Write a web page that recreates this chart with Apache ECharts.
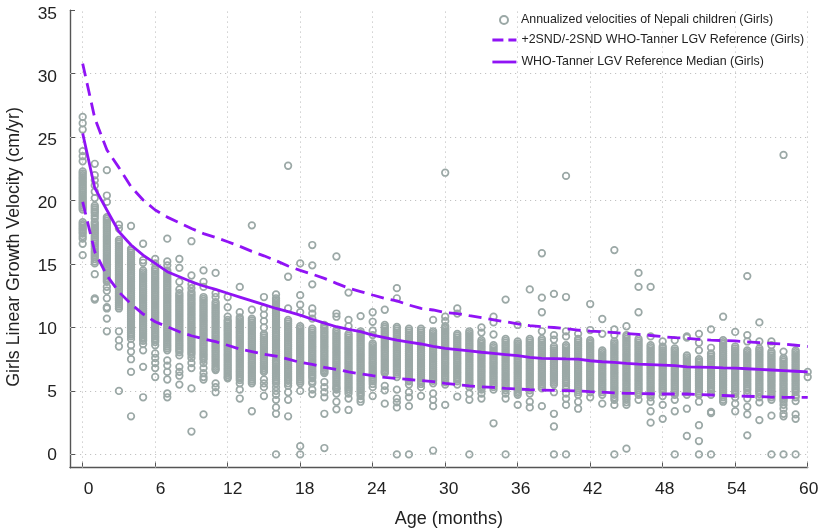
<!DOCTYPE html>
<html><head><meta charset="utf-8">
<style>html,body{margin:0;padding:0;background:#fff}#c{width:819px;height:530px}</style>
<script src="https://cdn.jsdelivr.net/npm/echarts@6/dist/echarts.min.js"></script>
</head><body><div id="c"></div>
<script>
const xTicks=[0,6,12,18,24,30,36,42,48,54,60];
const yTicks=[0,5,10,15,20,25,30,35];
const months=[0,1,2,3,4,5,6,7,8,9,10,11,12,13,14,15,16,17,18,19,20,21,22,23,24,25,26,27,28,29,30,31,32,33,34,35,36,37,38,39,40,41,42,43,44,45,46,47,48,49,50,51,52,53,54,55,56,57,58,59,60];
const upperRef=[30.8,26.5,24,22.6,21.1,20.05,19.26,18.7,18.26,17.8,17.4,17.1,16.76,16.4,16,15.65,15.27,14.85,14.5,14.2,13.87,13.48,13.1,12.83,12.56,12.3,12.1,11.77,11.5,11.38,11.17,11.1,10.93,10.77,10.6,10.46,10.28,10.14,10.07,10,9.9,9.8,9.72,9.66,9.6,9.53,9.46,9.37,9.28,9.2,9.15,9.07,9,8.97,8.94,8.87,8.8,8.75,8.7,8.6,8.5];
const medianRef=[25.3,21,19.26,17.55,16.5,15.7,15.05,14.4,14,13.6,13.27,13,12.7,12.4,12.1,11.8,11.5,11.25,10.98,10.65,10.35,10.06,9.85,9.67,9.4,9.2,9,8.85,8.7,8.52,8.35,8.25,8.15,8.05,7.96,7.87,7.78,7.65,7.57,7.55,7.52,7.5,7.38,7.3,7.25,7.18,7.12,7.08,7.04,7,6.9,6.88,6.85,6.82,6.8,6.75,6.7,6.65,6.6,6.55,6.5];
const lowerRef=[19.9,15.97,14.1,12.8,11.85,11.06,10.45,10.06,9.66,9.35,9.1,8.88,8.6,8.3,8.1,7.9,7.75,7.5,7.25,7.1,6.85,6.7,6.5,6.35,6.2,6.07,5.98,5.9,5.82,5.73,5.6,5.5,5.4,5.33,5.28,5.2,5.15,5.1,5.07,5.04,5.02,5,4.94,4.9,4.85,4.81,4.8,4.78,4.76,4.76,4.76,4.72,4.68,4.64,4.6,4.58,4.55,4.52,4.5,4.5,4.5];
const velocitiesByMonth=[
[26.6,26.1,25.6,23.9,23.5,23.1,22.3,22,21.7,21.4,21.1,20.8,20.5,20.2,19.9,19.6,19.3,18.3,18,17.7,17.4,17,16.6,15.7],
[22.9,22,21.6,21.2,20.7,20.2,19.6,19.3,19,18.6,18.3,18,17.7,17.4,17.1,16.8,16.4,16,15.7,15.4,15.05,14.2,12.3,12.2],
[22.4,20.4,19.9,18.7,18.4,18.1,17.8,17.5,17.2,16.9,16.6,16.3,16,15.7,15.4,15.1,14.8,14.5,14.2,13.9,13.6,13.2,12.9,12.3,11.6,11.5,10.7,9.7],
[18.1,17.8,16.9,16.6,16.3,16,15.7,15.4,15.1,14.8,14.5,14.2,13.9,13.6,13.3,13,12.7,12.4,12.1,11.8,11.5,9.7,9,8.5,5],
[18,16.2,15.9,15.6,15.3,15,14.7,14.4,14.1,13.8,13.5,13.2,12.9,12.6,12.3,12,11.7,11.4,11.1,10.8,10.5,10.2,9.9,9.6,9.3,9.1,8.6,8.1,7.5,6.5,3],
[16.6,15.3,15.1,14.5,14.2,13.9,13.6,13.3,13,12.7,12.4,12.1,11.8,11.5,11.2,10.9,10.6,10.3,10,9.7,9.4,9.1,8.7,8.2,6.9,4.5],
[15.4,15.05,14.7,14.4,14.1,13.8,13.5,13.2,12.9,12.6,12.3,12,11.7,11.4,11.1,10.8,10.5,10.2,9.9,9.6,9.3,9,8.6,7.95,7.6,7.2,6.8,6.1],
[17,15.2,14.9,14.5,14.2,13.9,13.6,13.3,13,12.7,12.4,12.1,11.8,11.5,11.2,10.9,10.6,10.3,10,9.7,9.4,9.1,8.8,8.5,8.2,7.4,7,6.5,5.9,4.8,4.5],
[15.4,14.7,13.6,13,12.7,12.4,12.1,11.8,11.5,11.2,10.9,10.6,10.3,10,9.7,9.4,9.1,8.8,8.5,8.2,7.8,6.9,6.5,6.2,5.5],
[16.8,14.1,13.4,13.1,12.8,12.5,12.2,11.9,11.6,11.3,11,10.7,10.4,10.1,9.8,9.5,9.2,8.9,8.6,8.3,8,7.6,7.2,6.8,5.2,1.8],
[14.5,13.6,13.2,12.4,12.1,11.8,11.5,11.2,10.9,10.6,10.3,10,9.7,9.4,9.1,8.8,8.5,8.2,7.9,7.6,7.2,6.8,6.4,6.1,5.9,3.15],
[14.3,12.7,12.4,12,11.7,11.4,11.1,10.8,10.5,10.2,9.9,9.6,9.3,9,8.7,8.4,8.1,7.8,7.5,7.2,6.9,6.65,5.6,5.3,4.9],
[12.4,11.6,10.85,10.6,10.3,10,9.7,9.4,9.1,8.8,8.5,8.2,7.9,7.6,7.3,7,6.7,6.4,6.1,6],
[13.2,11.2,10.8,10.5,10.2,9.9,9.6,9.3,9,8.7,8.4,8.1,7.8,7.5,7.2,6.9,6.6,6.3,6,5.6,5.1,4.4],
[18.05,11.4,10.7,10.4,10.1,9.8,9.5,9.2,8.9,8.6,8.3,8,7.7,7.4,7.1,6.8,6.5,6.2,5.9,5.6,3.4],
[12.4,11.5,11,10.5,10,9.5,9.2,8.9,8.6,8.3,8,7.7,7.4,7.1,6.8,6.5,5.9,5.6,5.3,4.6],
[12.6,12.3,12,11.7,11.4,11.1,10.8,10.5,10.2,9.9,9.6,9.3,9,8.7,8.4,8.1,7.8,7.4,7.1,6.8,6.5,6.2,5.9,5.6,5.3,5,4.7,4.3,3.7,3.2,0],
[22.75,14,11.5,10.6,10.3,10,9.7,9.4,9.1,8.8,8.5,8.2,7.9,7.6,7.3,7,6.7,6.4,6.1,5.8,5.6,5.4,4.9,4.3,3],
[15.05,12.55,11.8,11.2,10.1,9.8,9.5,9.2,8.9,8.6,8.3,8,7.7,7.4,7.1,6.8,6.5,6.2,5.9,5.6,5,0.65,0],
[16.5,14.9,13.4,11.5,11.1,10.7,9.9,9.6,9.3,9,8.7,8.4,8.1,7.8,7.5,7.2,6.9,6.6,6.3,6,5.6,5.1,4.75],
[10.2,9.9,9.6,9.3,9,8.7,8.4,8.1,7.8,7.5,7.2,6.9,6.6,6.4,5.7,5.3,4.9,4.5,3.2,0.5],
[15.6,11.1,10.85,9.8,9.5,9.2,8.9,8.6,8.3,8,7.7,7.4,7.1,6.8,6.5,6.2,5.9,5.6,5.3,5.1,4.8,4.15,3.55],
[12.75,10.6,10.1,9.5,9.2,8.9,8.6,8.3,8,7.7,7.4,7.1,6.8,6.5,6.2,5.9,5.6,5.3,5,4.8,4.4,3.5],
[10.9,9.7,9.4,9.1,8.8,8.5,8.2,7.9,7.6,7.3,7,6.7,6.4,6.1,5.8,5.5,5.2,4.9,4.6,4.35,4.15],
[11.2,10.45,9.75,9.4,8.75,8.45,8.15,7.85,7.55,7.25,6.95,6.65,6.35,6.05,5.75,5.3,4.6],
[11.4,10.2,9.9,9.6,9.3,9,8.7,8.4,8.1,7.8,7.5,7.2,6.9,6.6,6.4,5.4,5.05,4],
[13.1,12.3,10.05,9.75,9.45,9.15,8.85,8.55,8.25,7.95,7.65,7.35,7.05,6.75,6.45,6.1,5.1,4.4,4.1,3.7,0],
[9.9,9.6,9.3,9,8.7,8.4,8.1,7.8,7.5,7.2,6.9,6.6,6.3,6,5.75,5.5,4.9,4.5,3.8,0],
[9.9,9.6,9.3,9,8.7,8.4,8.1,7.8,7.5,7.2,6.9,6.6,6.3,6,5.7,5.3,4.6],
[10.6,9.7,9.4,9.1,8.8,8.5,8.2,7.9,7.6,7.3,7,6.7,6.4,6.1,5.8,5.6,4.8,4.3,3.8,0.3],
[22.2,10.85,10.5,10.1,9.8,9.5,9.2,8.9,8.6,8.3,8,7.7,7.4,7.1,6.8,6.5,6.2,5.9,5.5,3.9],
[11.5,11.1,9.5,9.2,8.9,8.6,8.3,8,7.7,7.4,7.1,6.8,6.5,6.2,5.9,5.5,4.55],
[9.7,9.4,9.1,8.8,8.5,8.2,7.9,7.6,7.3,7,6.7,6.4,6.1,5.8,5.5,5.3,4.8,4.3,0],
[10,9.6,9,8.7,8.4,8.1,7.8,7.5,7.2,6.9,6.6,6.3,6,5.7,5.4,5.1,4.8,4.4],
[10.85,10.4,9.45,8.6,8.3,8,7.7,7.4,7.1,6.8,6.5,6.2,5.9,5.6,5.3,5.1,2.45],
[12.2,9.1,8.8,8.5,8.2,7.9,7.6,7.3,7,6.7,6.4,6.1,5.8,5.5,5.2,4.8,4.4,0],
[10.2,8.9,8.6,8.3,8,7.7,7.4,7.1,6.8,6.5,6.2,5.9,5.6,5.3,5,4.7,3.9],
[13,9.1,8.8,8.5,8.2,7.9,7.6,7.3,7,6.7,6.4,6.1,5.8,5.5,5.2,4.8,4.15,3.7],
[15.85,12.35,11.2,9.7,9.1,8.8,8.5,8.2,7.9,7.6,7.3,7,6.7,6.4,6.1,5.8,5.5,5.2,3.8],
[12.65,9.4,9.05,8.5,8.2,7.9,7.6,7.3,7,6.7,6.4,6.1,5.8,5.5,4.9,3.2,2.2,0],
[21.95,12.4,9.7,9.3,8.6,8.3,8,7.7,7.4,7.1,6.8,6.5,6.2,5.9,5.6,5.2,4.8,4.4,3.9,0],
[9.5,9.1,8.8,8.5,8.2,7.9,7.6,7.3,7,6.7,6.4,6.1,5.8,5.5,5.2,4.9,4.7,4.15,3.6],
[11.85,9.8,9,8.7,8.4,8.1,7.8,7.5,7.2,6.9,6.6,6.3,6,5.7,5.4,5.1,4.9,4.5],
[10.67,9.5,8.2,7.9,7.6,7.3,7,6.7,6.4,6.1,5.8,5.5,5.2,4.9,4.7,4],
[16.1,9.85,9.4,8.9,8.6,8.3,8,7.7,7.4,7.1,6.8,6.5,6.2,5.9,5.6,5.3,5,4.7,4.5,4.3,3.9,0],
[10.1,9.4,9.1,8.8,8.5,8.2,7.9,7.6,7.3,7,6.7,6.4,6.1,5.8,5.5,5.2,4.9,4.6,4.3,4.1,3.9,0.45],
[14.3,13.2,11.2,9.1,8.8,8.5,8.2,7.9,7.6,7.3,7,6.7,6.4,6.1,5.8,5.5,5.2,4.9,4.7,4.3],
[13.2,9.3,8.6,8.3,8,7.7,7.4,7.1,6.8,6.5,6.2,5.9,5.6,5.3,5,4.7,4.5,4.15,3.4,2.5],
[8.9,8.5,8.2,7.9,7.6,7.3,7,6.7,6.4,6.1,5.8,5.5,5.2,4.9,4.6,3.9,2.8],
[9,8.35,8.05,7.75,7.45,7.15,6.85,6.55,6.25,5.95,5.65,5.35,5.05,4.7,4.3,3.4,0],
[9.3,9.2,7.8,7.5,7.2,6.9,6.6,6.3,6,5.7,5.4,5.1,4.9,4.7,3.6,1.45],
[9.5,8.8,8.2,7.5,7.2,6.9,6.6,6.3,6,5.7,5.4,5.1,4.8,4.7,4.15,2.3,1.05,0],
[9.85,8.4,7.96,7.7,7.4,7.1,6.8,6.5,6.2,5.9,5.6,5.3,5,4.7,3.35,3.25,0],
[10.85,9,8.7,8.4,8.1,7.8,7.5,7.2,6.9,6.6,6.3,6,5.7,5.4,5.1,4.8,4.5,4.3,4.15],
[9.65,8.5,8.2,7.9,7.6,7.3,7,6.7,6.4,6.1,5.8,5.5,5.2,4.9,4.5,4,3.4],
[14.05,9.4,8.9,8.2,7.9,7.6,7.3,7,6.7,6.4,6.1,5.8,5.5,5.2,4.8,4.4,3.75,3.15,1.5],
[10.4,8.9,8.35,8.05,7.75,7.45,7.15,6.85,6.55,6.25,5.95,5.65,5.35,5.05,4.75,4.5,4.1,2.7],
[8.9,8.6,8.1,7.8,7.5,7.2,6.9,6.6,6.3,6,5.7,5.4,5.1,4.8,4.5,4.3,3.05,0],
[23.6,8.1,7.6,7.3,7,6.7,6.4,6.1,5.8,5.5,5.2,4.9,4.6,4.3,3.9,3.6,3.2,3,0],
[8.2,7.9,7.6,7.3,7,6.7,6.4,6.1,5.8,5.5,5.2,4.9,4.5,4.2,3.15,2.8,0],
[6.5,6.1]
];
const denseBandByMonth=[
[22.15,21.85,21.55,21.25,20.95,20.65,20.35,20.05,19.75,19.45,18.15,17.85,17.55,17.2],
[19.45,19.15,18.8,18.15,17.85,17.55,17.25,16.95,16.6,16.2,15.85,15.55,15.2],
[18.55,18.25,17.95,17.65,17.35,17.05,16.75,16.45,16.15,15.85,15.55,15.25,14.95,14.65,14.35,14.05,13.75],
[16.75,16.45,16.15,15.85,15.55,15.25,14.95,14.65,14.35,14.05,13.75,13.45,13.15,12.85,12.55,12.25,11.95,11.65],
[16.05,15.75,15.45,15.15,14.85,14.55,14.25,13.95,13.65,13.35,13.05,12.75,12.45,12.15,11.85,11.55,11.25,10.95,10.65,10.35,10.05,9.75,9.45],
[14.35,14.05,13.75,13.45,13.15,12.85,12.55,12.25,11.95,11.65,11.35,11.05,10.75,10.45,10.15,9.85,9.55,9.25,8.95],
[14.55,14.25,13.95,13.65,13.35,13.05,12.75,12.45,12.15,11.85,11.55,11.25,10.95,10.65,10.35,10.05,9.75,9.45,9.15,8.85],
[14.35,14.05,13.75,13.45,13.15,12.85,12.55,12.25,11.95,11.65,11.35,11.05,10.75,10.45,10.15,9.85,9.55,9.25,8.95,8.65,8.35],
[12.55,12.25,11.95,11.65,11.35,11.05,10.75,10.45,10.15,9.85,9.55,9.25,8.95,8.65,8.35,8.05],
[12.65,12.35,12.05,11.75,11.45,11.15,10.85,10.55,10.25,9.95,9.65,9.35,9.05,8.75,8.45,8.15,7.85],
[12.25,11.95,11.65,11.35,11.05,10.75,10.45,10.15,9.85,9.55,9.25,8.95,8.65,8.35,8.05,7.75,7.45],
[11.85,11.55,11.25,10.95,10.65,10.35,10.05,9.75,9.45,9.15,8.85,8.55,8.25,7.95,7.65,7.35,7.05,6.75],
[10.45,10.15,9.85,9.55,9.25,8.95,8.65,8.35,8.05,7.75,7.45,7.15,6.85,6.55,6.25],
[10.65,10.35,10.05,9.75,9.45,9.15,8.85,8.55,8.25,7.95,7.65,7.35,7.05,6.75,6.45,6.15,5.85],
[10.55,10.25,9.95,9.65,9.35,9.05,8.75,8.45,8.15,7.85,7.55,7.25,6.95,6.65,6.35,6.05,5.75],
[9.35,9.05,8.75,8.45,8.15,7.85,7.55,7.25,6.95,6.65],
[12.15,11.85,11.55,11.25,10.95,10.65,10.35,10.05,9.75,9.45,9.15,8.85,8.55,8.25,7.95,7.65,7.25,6.95,6.65,6.35,6.05,5.75],
[10.45,10.15,9.85,9.55,9.25,8.95,8.65,8.35,8.05,7.75,7.45,7.15,6.85,6.55,6.25,5.95],
[9.95,9.65,9.35,9.05,8.75,8.45,8.15,7.85,7.55,7.25,6.95,6.65,6.35,6.05,5.75],
[9.75,9.45,9.15,8.85,8.55,8.25,7.95,7.65,7.35,7.05,6.75,6.45,6.15,5.75],
[10.05,9.75,9.45,9.15,8.85,8.55,8.25,7.95,7.65,7.35,7.05,6.75,6.5],
[9.65,9.35,9.05,8.75,8.45,8.15,7.85,7.55,7.25,6.95,6.65,6.35,6.05,5.75,5.45,5.2],
[9.35,9.05,8.75,8.45,8.15,7.85,7.55,7.25,6.95,6.65,6.35,6.05,5.75,5.45,5.15],
[9.55,9.25,8.95,8.65,8.35,8.05,7.75,7.45,7.15,6.85,6.55,6.25,5.95,5.65,5.35,5.05,4.75],
[8.6,8.3,8,7.7,7.4,7.1,6.8,6.5,6.2,5.9,5.55],
[10.05,9.75,9.45,9.15,8.85,8.55,8.25,7.95,7.65,7.35,7.05,6.75,6.5],
[9.9,9.6,9.3,9,8.7,8.4,8.1,7.8,7.5,7.2,6.9,6.6,6.3],
[9.75,9.45,9.15,8.85,8.55,8.25,7.95,7.65,7.35,7.05,6.75,6.45,6.15,5.85],
[9.75,9.45,9.15,8.85,8.55,8.25,7.95,7.65,7.35,7.05,6.75,6.45,6.15,5.85,5.55],
[9.55,9.25,8.95,8.65,8.35,8.05,7.75,7.45,7.15,6.85,6.55,6.25,5.95],
[9.95,9.65,9.35,9.05,8.75,8.45,8.15,7.85,7.55,7.25,6.95,6.65,6.35,6.05,5.7],
[9.35,9.05,8.75,8.45,8.15,7.85,7.55,7.25,6.95,6.65,6.35,6.05,5.75],
[9.55,9.25,8.95,8.65,8.35,8.05,7.75,7.45,7.15,6.85,6.55,6.25,5.95,5.65],
[8.85,8.55,8.25,7.95,7.65,7.35,7.05,6.75,6.45,6.15,5.85,5.55,5.25],
[8.45,8.15,7.85,7.55,7.25,6.95,6.65,6.35,6.05,5.75,5.45],
[8.95,8.65,8.35,8.05,7.75,7.45,7.15,6.85,6.55,6.25,5.95,5.65,5.35,5.05],
[8.75,8.45,8.15,7.85,7.55,7.25,6.95,6.65,6.35,6.05,5.75,5.45,5.15,4.85],
[8.95,8.65,8.35,8.05,7.75,7.45,7.15,6.85,6.55,6.25,5.95,5.65,5.35,5.05],
[8.95,8.65,8.35,8.05,7.75,7.45,7.15,6.85,6.55,6.25,5.95,5.65,5.35],
[8.35,8.05,7.75,7.45,7.15,6.85,6.55,6.25,5.95,5.65],
[8.45,8.15,7.85,7.55,7.25,6.95,6.65,6.35,6.05,5.75,5.4],
[8.95,8.65,8.35,8.05,7.75,7.45,7.15,6.85,6.55,6.25,5.95,5.65,5.35,5.05],
[8.85,8.55,8.25,7.95,7.65,7.35,7.05,6.75,6.45,6.15,5.85,5.55,5.25],
[8.05,7.75,7.45,7.15,6.85,6.55,6.25,5.95,5.65,5.35,5.05],
[8.75,8.45,8.15,7.85,7.55,7.25,6.95,6.65,6.35,6.05,5.75,5.45,5.15,4.85],
[9.25,8.95,8.65,8.35,8.05,7.75,7.45,7.15,6.85,6.55,6.25,5.95,5.65,5.35,5.05,4.75,4.45],
[8.95,8.65,8.35,8.05,7.75,7.45,7.15,6.85,6.55,6.25,5.95,5.65,5.35,5.05],
[8.45,8.15,7.85,7.55,7.25,6.95,6.65,6.35,6.05,5.75,5.45,5.15,4.85],
[8.35,8.05,7.75,7.45,7.15,6.85,6.55,6.25,5.95,5.65,5.35,5.05],
[8.2,7.9,7.6,7.3,7,6.7,6.4,6.1,5.8,5.5,5.2,4.9],
[7.65,7.35,7.05,6.75,6.45,6.15,5.85,5.55,5.25],
[7.35,7.05,6.75,6.45,6.15,5.85,5.55,5.25,4.95],
[7.85,7.55,7.25,6.95,6.65,6.35,6.05,5.75,5.45,5.15],
[8.85,8.55,8.25,7.95,7.65,7.35,7.05,6.75,6.45,6.15,5.85,5.55,5.25,4.95,4.65],
[8.35,8.05,7.75,7.45,7.15,6.85,6.55,6.25,5.95,5.65,5.35,5.05,4.75],
[8.05,7.75,7.45,7.15,6.85,6.55,6.25,5.95,5.65,5.35,5.05],
[8.2,7.9,7.6,7.3,7,6.7,6.4,6.1,5.8,5.5,5.2,4.9],
[7.95,7.65,7.35,7.05,6.75,6.45,6.15,5.85,5.55,5.25,4.95,4.65],
[7.45,7.15,6.85,6.55,6.25,5.95,5.65,5.35,5.05,4.75,4.45,4.15],
[8.05,7.75,7.45,7.15,6.85,6.55,6.25,5.95,5.65,5.35,5.05,4.65],
[]
];
const seriesNames=['Annualized velocities of Nepali children (Girls)','+2SND/-2SND WHO-Tanner LGV Reference (Girls)','WHO-Tanner LGV Reference Median (Girls)'];
const refColor='#9013f5', ringColor='#9ba8a6', axisColor='#555555', gridColor='#c2c2c2', textColor='#222';
const fontFamily='"Liberation Sans", Arial, sans-serif';
const points=[];
velocitiesByMonth.forEach((col,i)=>col.forEach(v=>points.push([months[i],v])));
denseBandByMonth.forEach((col,i)=>col.forEach(v=>points.push([months[i],v])));
const zip=a=>a.map((v,i)=>[months[i],v]);
const refLine=(name,arr,dash)=>({name,type:'line',data:zip(arr),showSymbol:false,symbol:'none',smooth:false,z:5,silent:true,
  lineStyle:{color:refColor,width:2.8,type:dash?[13,7]:'solid',cap:'butt'},itemStyle:{color:refColor}});
const legendBase={orient:'vertical',itemWidth:24,itemHeight:8,itemGap:0,selectedMode:false,padding:0,
  textStyle:{fontFamily,fontSize:12.4,color:textColor}};
/* tick-label offsets seen in the reference: labels drift relative to ticks */
const xRich={},yRich={};
xTicks.forEach(v=>{xRich['t'+v]={padding:[0,0,0,2*(6-5*v/60)]};});
yTicks.forEach(v=>{yRich['t'+v]={padding:[2*(1.2+2.5*v/35),0,0,0]};});
const chart=echarts.init(document.getElementById('c'),null,{renderer:'canvas'});
chart.setOption({
  animation:false,backgroundColor:'#fff',
  grid:{left:70,right:11.3,top:10.3,bottom:62.3,containLabel:false,outerBoundsMode:'none'},
  legend:[
    Object.assign({},legendBase,{left:499,top:14,data:[{name:seriesNames[0],icon:'circle'}]}),
    Object.assign({},legendBase,{left:491,top:34,data:[{name:seriesNames[1],itemStyle:{opacity:0},lineStyle:{type:[11,5],width:2.8}}]}),
    Object.assign({},legendBase,{left:491,top:56,data:[{name:seriesNames[2],itemStyle:{opacity:0},lineStyle:{width:2.8}}]})
  ],
  xAxis:{type:'value',min:-1.05,max:60,name:'Age (months)',nameLocation:'middle',nameGap:42,
    nameTextStyle:{fontFamily,fontSize:18,color:textColor,padding:[0,0,0,20]},
    axisLine:{show:true,onZero:false,lineStyle:{color:axisColor,width:1.4}},
    axisTick:{show:true,inside:true,length:6,customValues:xTicks,lineStyle:{color:axisColor,width:1}},
    axisLabel:{show:true,customValues:xTicks,formatter:v=>'{t'+v+'|'+v+'}',rich:xRich,margin:13,fontFamily,fontSize:17.4,color:textColor,showMinLabel:true,showMaxLabel:true,hideOverlap:false},
    splitLine:{show:false}},
  yAxis:{type:'value',min:-1.05,max:35,name:'Girls Linear Growth Velocity (cm/yr)',nameLocation:'middle',nameGap:46.5,
    nameTextStyle:{fontFamily,fontSize:17.8,color:textColor,padding:[0,16,0,0]},
    axisLine:{show:true,onZero:false,lineStyle:{color:axisColor,width:1.4}},
    axisTick:{show:true,inside:true,length:5,customValues:yTicks,lineStyle:{color:axisColor,width:1}},
    axisLabel:{show:true,customValues:yTicks,formatter:v=>'{t'+v+'|'+v+'}',rich:yRich,margin:13,fontFamily,fontSize:17.4,color:textColor,showMinLabel:true,showMaxLabel:true,hideOverlap:false},
    splitLine:{show:false}},
  series:[
    {name:seriesNames[0],type:'scatter',data:points,symbol:'circle',symbolSize:6.6,silent:true,z:3,clip:false,
      itemStyle:{color:'rgba(255,255,255,0)',borderColor:ringColor,borderWidth:1.7,opacity:1},
      markLine:{silent:true,z:1,symbol:'none',animation:false,label:{show:false},
        lineStyle:{color:gridColor,width:1,type:[1.2,3.8]},
        data:xTicks.map(v=>({xAxis:v})).concat(yTicks.filter(v=>v<35).map(v=>({yAxis:v})))}},
    refLine(seriesNames[1],upperRef,true),
    refLine(seriesNames[1],lowerRef,true),
    refLine(seriesNames[2],medianRef,false)
  ]
});
</script></body></html>
